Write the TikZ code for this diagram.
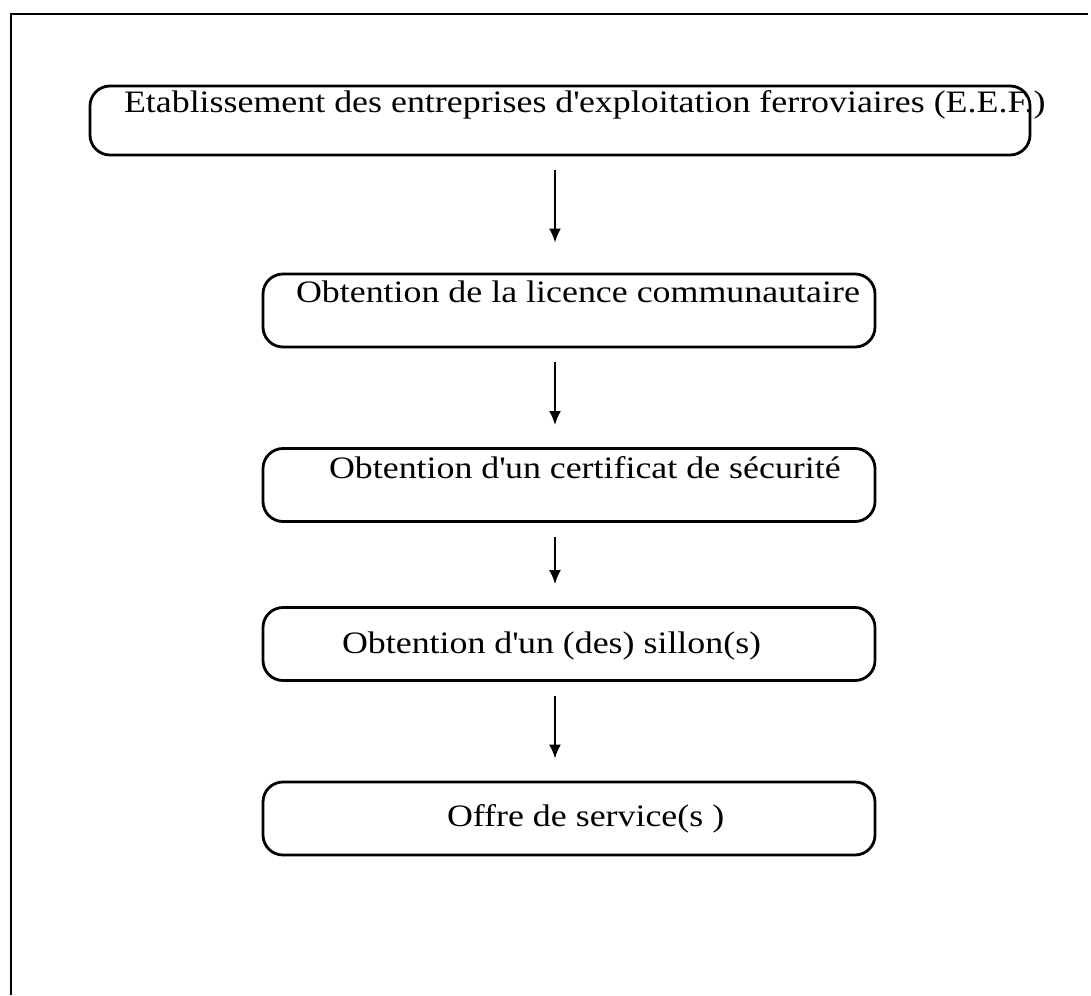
\documentclass[tikz,border=0pt]{standalone}
\usepackage{fontspec}
\setmainfont{Liberation Serif}[FakeStretch=1.15]
\usepackage{tikz}
\usetikzlibrary{arrows.meta, positioning}

\begin{document}
\begin{tikzpicture}[x=0.5pt,y=-0.5pt,node distance=1cm]
    \tikzstyle{stage}=[shape=rectangle,rounded corners=10pt,draw,line width=1.4pt,minimum width=306pt,minimum height=36.5pt]
    \tikzstyle{caption}=[font=\fontsize{15.6}{17}\selectfont,inner sep=0pt,anchor=west]
    \tikzstyle{flow}=[-{Latex[length=7pt,width=6pt]},line width=1.1pt,shorten <=7pt,shorten >=11pt]

    \useasboundingbox (0,0) rectangle (1091,995);
    \draw[line width=1.4pt] (11,995) -- (11,14) -- (1088,14);

    \node[stage,minimum width=470pt,minimum height=34.5pt] (S1) at (560,120.5) {};
    \node[stage] (S2) at (569,310.5) {};
    \node[stage] (S3) at (569,485) {};
    \node[stage] (S4) at (569,644) {};
    \node[stage] (S5) at (569,818.5) {};

    \node[caption] (T1) at ([shift={(35,-15.5)}]S1.west) {Etablissement des entreprises d\textquotesingle exploitation ferroviaires (E.E.F.)};
    \node[caption] (T2) at ([shift={(34,-18.5)}]S2.west) {Obtention de la licence communautaire};
    \node[caption] (T3) at ([shift={(67,-17)}]S3.west) {Obtention d\textquotesingle un certificat de sécurité};
    \node[caption] (T4) at ([shift={(80,2)}]S4.west) {Obtention d\textquotesingle un (des) sillon(s)};
    \node[caption] (T5) at ([shift={(185,0)}]S5.west) {Offre de service(s )};

    \coordinate (ax) at (555,0);
    \draw[flow, shorten >=15pt] (S1.south -| ax) -- (S2.north -| ax);
    \draw[flow] (S2.south -| ax) -- (S3.north -| ax);
    \draw[flow] (S3.south -| ax) -- (S4.north -| ax);
    \draw[flow] (S4.south -| ax) -- (S5.north -| ax);

\end{tikzpicture}
\end{document}
